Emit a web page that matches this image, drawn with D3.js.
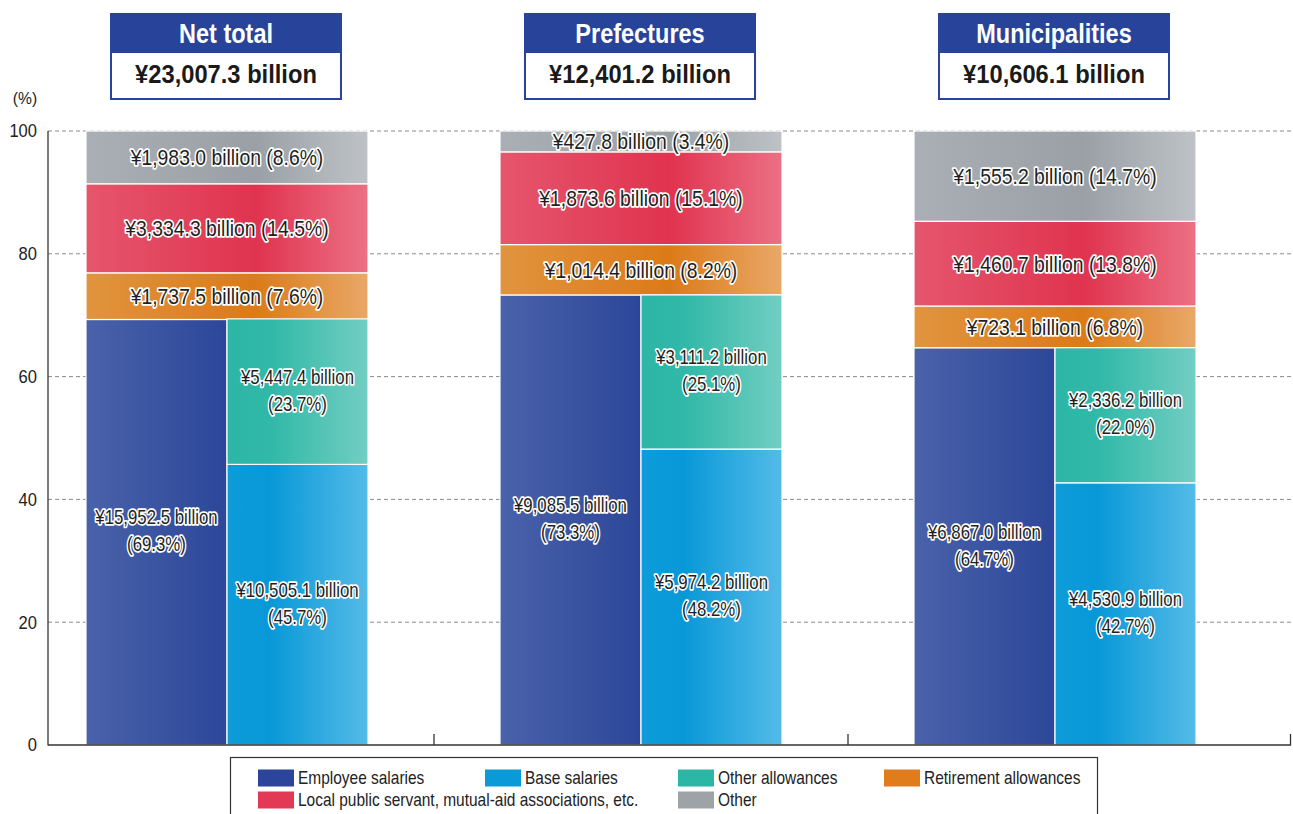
<!DOCTYPE html>
<html>
<head>
<meta charset="utf-8">
<script src="https://cdn.jsdelivr.net/npm/d3@7"></script>
<style>
  html, body { margin: 0; padding: 0; background: #fff; }
  svg { display: block; }
  text { font-family: "Liberation Sans", Arial, Helvetica, sans-serif; }
</style>
</head>
<body>
<svg id="chart" width="1293" height="814"></svg>
<script>
// Breakdown of personnel expenses (billion yen, share of total)
const groups = ["Net total", "Prefectures", "Municipalities"];
const groupTotals = [23007.3, 12401.2, 10606.1];

const employeeSalaries = [15952.5, 9085.5, 6867.0];
const employeeShare    = [69.3, 73.3, 64.7];
const baseSalaries     = [10505.1, 5974.2, 4530.9];
const baseShare        = [45.7, 48.2, 42.7];
const otherAllowances  = [5447.4, 3111.2, 2336.2];
const otherAllowShare  = [23.7, 25.1, 22.0];
const retirement       = [1737.5, 1014.4, 723.1];
const retirementShare  = [7.6, 8.2, 6.8];
const mutualAid        = [3334.3, 1873.6, 1460.7];
const mutualAidShare   = [14.5, 15.1, 13.8];
const otherCosts       = [1983.0, 427.8, 1555.2];
const otherShare       = [8.6, 3.4, 14.7];

const yTicks = [0, 20, 40, 60, 80, 100];

const legendLabels = [
  "Employee salaries", "Base salaries", "Other allowances", "Retirement allowances",
  "Local public servant, mutual-aid associations, etc.", "Other"
];

const palette = {
  employee:   { solid: "#2a4599", stops: [[0, "#4a62aa"], [1, "#2c4799"]] },
  base:       { solid: "#0a9ad8", stops: [[0, "#0e9cd9"], [0.3, "#0898d8"], [1, "#54bbe7"]] },
  allowances: { solid: "#2cb6a5", stops: [[0, "#2db6a6"], [0.3, "#30b8a8"], [1, "#72cec2"]] },
  retirement: { solid: "#e07c1c", stops: [[0, "#e1943f"], [0.6, "#dc7a18"], [1, "#e9a868"]] },
  mutual:     { solid: "#e23a55", stops: [[0, "#e5566d"], [0.6, "#e0334f"], [1, "#ec7084"]] },
  other:      { solid: "#9ea3a8", stops: [[0, "#aaafb5"], [0.6, "#9aa0a6"], [1, "#bec2c6"]] }
};

const svg = d3.select("#chart");
const defs = svg.append("defs");
Object.entries(palette).forEach(([key, p]) => {
  const g = defs.append("linearGradient").attr("id", "grad-" + key)
    .attr("x1", 0).attr("y1", 0).attr("x2", 1).attr("y2", 0);
  p.stops.forEach(([o, c]) => g.append("stop").attr("offset", o).attr("stop-color", c));
});

// horizontally condensed text anchored at (x, y)
function ctext(parent, x, y, sx) {
  return parent.append("text").attr("transform", `translate(${x},${y}) scale(${sx},1)`);
}

const axisLeft = 48, axisRight = 1291;
const y = d3.scaleLinear().domain([0, 100]).range([745, 131]);
const x = d3.scaleBand().domain(groups).range([20, 1262])
  .paddingInner(0.3188).paddingOuter(0.1594);
const half = d3.scaleBand().domain(["left", "right"]).range([0, x.bandwidth()]);

const fmt = d3.format(",.1f");
const money = v => "¥" + fmt(v) + " billion";
const pct = v => "(" + v.toFixed(1) + "%)";

// dashed gridlines
svg.append("g").selectAll("line").data(yTicks.filter(t => t > 0)).join("line")
  .attr("x1", axisLeft).attr("x2", axisRight)
  .attr("y1", d => y(d)).attr("y2", d => y(d))
  .attr("stroke", "#8a8a8a").attr("stroke-width", 1).attr("stroke-dasharray", "4,3");

// y tick labels
const yl = svg.append("g");
yTicks.forEach(t => {
  ctext(yl, 37, y(t), 0.92).attr("dy", "0.36em").attr("text-anchor", "end")
    .attr("font-size", 18).attr("fill", "#222").text(t);
});
ctext(svg, 25, 104, 0.92).attr("text-anchor", "middle").attr("font-size", 17)
  .attr("fill", "#222").text("(%)");

// build segments
const segs = [];
groups.forEach((g, i) => {
  const x0 = x(g), bw = x.bandwidth();
  let acc = 0;
  [["employee", employeeSalaries[i], employeeShare[i], true],
   ["retirement", retirement[i], retirementShare[i], false],
   ["mutual", mutualAid[i], mutualAidShare[i], false],
   ["other", otherCosts[i], otherShare[i], false]].forEach(([k, v, s, isHalf]) => {
    segs.push({ key: k, value: v, share: s, lo: acc, hi: acc + s,
      x: x0 + (isHalf ? half("left") : 0), w: isHalf ? half.bandwidth() : bw, twoLine: isHalf });
    acc += s;
  });
  // right-hand split of employee salaries
  segs.push({ key: "base", value: baseSalaries[i], share: baseShare[i], lo: 0, hi: baseShare[i],
    x: x0 + half("right"), w: half.bandwidth(), twoLine: true });
  segs.push({ key: "allowances", value: otherAllowances[i], share: otherAllowShare[i],
    lo: baseShare[i], hi: baseShare[i] + otherAllowShare[i],
    x: x0 + half("right"), w: half.bandwidth(), twoLine: true });
});

svg.append("g").selectAll("rect").data(segs).join("rect")
  .attr("x", d => d.x).attr("y", d => y(d.hi))
  .attr("width", d => d.w).attr("height", d => y(d.lo) - y(d.hi))
  .attr("fill", d => "url(#grad-" + d.key + ")")
  .attr("stroke", "#fff").attr("stroke-width", 1.2);

// axis lines
svg.append("line").attr("x1", axisLeft).attr("x2", axisLeft).attr("y1", y(100)).attr("y2", y(0) + 0.5)
  .attr("stroke", "#333").attr("stroke-width", 1.3);
svg.append("line").attr("x1", axisLeft).attr("x2", axisRight).attr("y1", y(0)).attr("y2", y(0))
  .attr("stroke", "#333").attr("stroke-width", 1.5);
const boundaries = groups.slice(1).map(g => x(g) - x.step() * x.paddingInner() / 2).concat([axisRight - 0.5]);
svg.append("g").selectAll("line").data(boundaries).join("line")
  .attr("x1", d => d).attr("x2", d => d).attr("y1", y(0)).attr("y2", y(0) - 11)
  .attr("stroke", "#333").attr("stroke-width", 1.3);

// segment labels with white halo
const lab = svg.append("g").attr("text-anchor", "middle");
segs.forEach(d => {
  const cx = d.x + d.w / 2, cy = y((d.lo + d.hi) / 2);
  if (d.twoLine) {
    [[money(d.value), cy - 15], [pct(d.share), cy + 12]].forEach(([s, ly]) => {
      ctext(lab, cx, ly, 0.84).attr("dy", "0.36em").attr("font-size", 20)
        .attr("fill", "#231f20").attr("stroke", "#fff").attr("stroke-width", 3.4)
        .attr("stroke-linejoin", "round").attr("paint-order", "stroke").text(s);
    });
  } else {
    ctext(lab, cx, cy, 0.88).attr("dy", "0.36em").attr("font-size", 22)
      .attr("fill", "#231f20").attr("stroke", "#fff").attr("stroke-width", 3.4)
      .attr("stroke-linejoin", "round").attr("paint-order", "stroke")
      .text(money(d.value) + " " + pct(d.share));
  }
});

// header boxes
const boxW = 230;
groups.forEach((g, i) => {
  const cx = x(g) + x.bandwidth() / 2 - 1;
  const hg = svg.append("g");
  hg.append("rect").attr("x", cx - boxW / 2).attr("y", 14).attr("width", boxW).attr("height", 85)
    .attr("fill", "#fff").attr("stroke", "#27449a").attr("stroke-width", 2);
  hg.append("rect").attr("x", cx - boxW / 2).attr("y", 13).attr("width", boxW).attr("height", 40)
    .attr("fill", "#27449a");
  ctext(hg, cx, 32.5, 0.84).attr("dy", "0.36em")
    .attr("text-anchor", "middle").attr("font-weight", "bold").attr("font-size", 28)
    .attr("fill", "#fff").text(g);
  ctext(hg, cx, 73.5, 0.93).attr("dy", "0.36em")
    .attr("text-anchor", "middle").attr("font-weight", "bold").attr("font-size", 25.5)
    .attr("fill", "#1a1a1a").text("¥" + fmt(groupTotals[i]) + " billion");
});

// legend
const lg = svg.append("g");
lg.append("rect").attr("x", 230.5).attr("y", 757.5).attr("width", 867).attr("height", 80)
  .attr("fill", "#fff").attr("stroke", "#333").attr("stroke-width", 1.2);
const legendKeys = ["employee", "base", "allowances", "retirement", "mutual", "other"];
const legendPos = [[258, 778], [485, 778], [678, 778], [884, 778], [258, 800], [678, 800]];
legendKeys.forEach((k, i) => {
  const [lx, ly] = legendPos[i];
  lg.append("rect").attr("x", lx).attr("y", ly - 8.5).attr("width", 36).attr("height", 17)
    .attr("fill", palette[k].solid);
  ctext(lg, lx + 40, ly, 0.86).attr("dy", "0.36em")
    .attr("font-size", 18).attr("fill", "#222").text(legendLabels[i]);
});
</script>
</body>
</html>
